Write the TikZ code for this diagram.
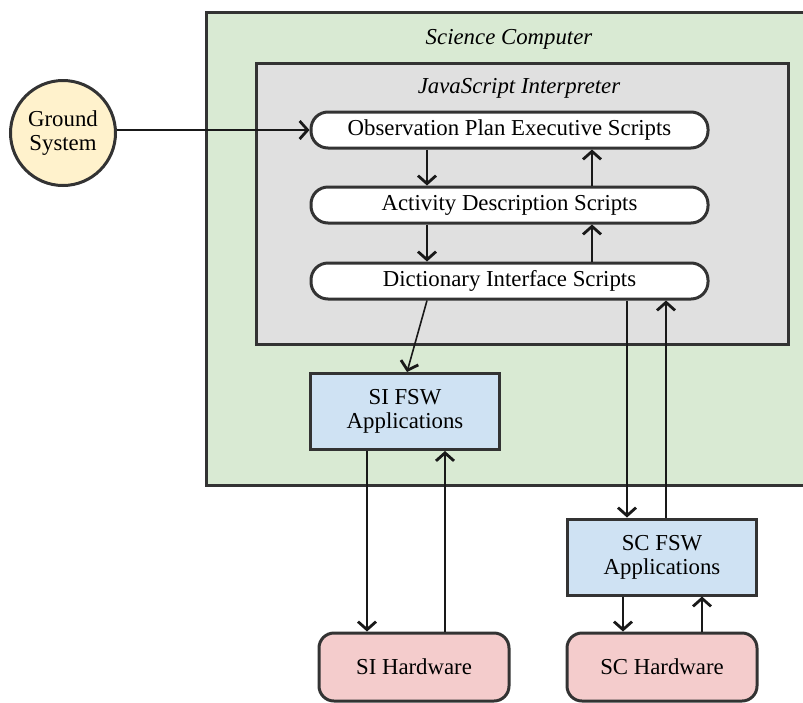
\documentclass[tikz,border=0pt]{standalone}
\usepackage{fontspec}
\setmainfont{Liberation Serif}
\usetikzlibrary{arrows.meta}
\definecolor{cgreen}{HTML}{D9EAD3}
\definecolor{cgray}{HTML}{E0E0E0}
\definecolor{cyellow}{HTML}{FFF2CC}
\definecolor{cblue}{HTML}{CFE2F3}
\definecolor{cred}{HTML}{F4CCCC}
\definecolor{cline}{HTML}{333333}
\begin{document}
\begin{tikzpicture}[x=1pt,y=-1pt,
  every node/.style={font=\fontsize{22.8pt}{24pt}\selectfont, align=center, inner sep=0pt},
  bord/.style={draw=cline, line width=3pt},
  pill/.style={bord, fill=white, rounded corners=17pt, minimum width=397pt, minimum height=36pt},
  fswbox/.style={bord, fill=cblue, minimum width=189pt, minimum height=76pt},
  hwbox/.style={bord, fill=cred, rounded corners=15pt, minimum width=190pt, minimum height=68pt},
  arr/.style={draw=black!90, line width=1.6pt, -{Straight Barb[length=8pt,width=18pt,line width=2.8pt]}}
]
\useasboundingbox (0,0) rectangle (803,702);
\clip (0,0) rectangle (803,702);
% containers
\node[bord, fill=cgreen, minimum width=612pt, minimum height=473pt, anchor=north west] (sc) at (204.5,10.5) {};
\node[font=\fontsize{22.8pt}{24pt}\selectfont\itshape] (sctitle) at (509,39) {Science Computer};
\node[bord, fill=cgray, minimum width=532pt, minimum height=281pt, anchor=north west] (ji) at (254.5,61.5) {};
\node[font=\fontsize{22.8pt}{24pt}\selectfont\itshape] (jititle) at (519,88) {JavaScript Interpreter};
% script pills
\node[pill] (obs) at (509.5,130) {Observation Plan Executive Scripts};
\node[pill] (act) at (509.5,205) {Activity Description Scripts};
\node[pill] (dict) at (509.5,281) {Dictionary Interface Scripts};
% other nodes
\node[bord, circle, fill=cyellow, minimum size=105pt] (gs) at (63,133) {Ground\\System};
\node[fswbox] (sifsw) at (405,411.5) {SI FSW\\Applications};
\node[fswbox] (scfsw) at (662,557) {SC FSW\\Applications};
\node[hwbox] (sihw) at (414,667) {SI Hardware};
\node[hwbox] (schw) at (662,667) {SC Hardware};
% helper x positions
\coordinate (xa) at (427,0);
\coordinate (xb) at (592,0);
\coordinate (xc) at (407,0);
\coordinate (xd) at (627,0);
\coordinate (xe) at (666,0);
\coordinate (xf) at (367,0);
\coordinate (xg) at (445,0);
\coordinate (xh) at (623,0);
\coordinate (xi) at (702,0);
% connectors
\draw[arr] (gs.east |- obs.west) -- (obs.west);
\draw[arr] (obs.south -| xa) -- (act.north -| xa);
\draw[arr] (act.north -| xb) -- (obs.south -| xb);
\draw[arr] (act.south -| xa) -- (dict.north -| xa);
\draw[arr] (dict.north -| xb) -- (act.south -| xb);
\draw[arr] (dict.south -| xa) -- (sifsw.north -| xc);
\draw[arr] (dict.south -| xd) -- (scfsw.north -| xd);
\draw[arr] (scfsw.north -| xe) -- (dict.south -| xe);
\draw[arr] (sifsw.south -| xf) -- (sihw.north -| xf);
\draw[arr] (sihw.north -| xg) -- (sifsw.south -| xg);
\draw[arr] (scfsw.south -| xh) -- (schw.north -| xh);
\draw[arr] (schw.north -| xi) -- (scfsw.south -| xi);
\end{tikzpicture}
\end{document}
